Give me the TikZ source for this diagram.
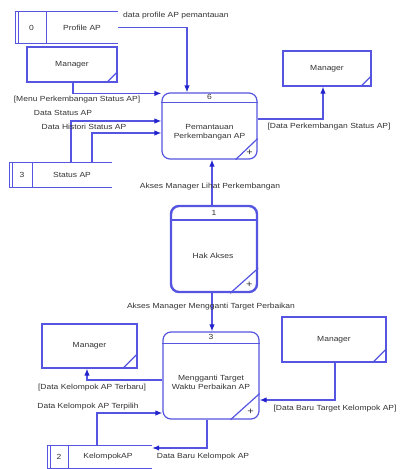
\documentclass[tikz,border=0pt]{standalone}
\usepackage{fontspec}
\setmainfont{Liberation Sans}[FakeStretch=1.15]
\usetikzlibrary{arrows.meta}
\definecolor{lc}{RGB}{85,85,225}
\definecolor{ac}{RGB}{35,35,205}
\definecolor{tc}{RGB}{50,50,50}
\tikzset{
  ln/.style={draw=lc, line width=1.2pt},
  flow/.style={ln, -{Latex[length=7pt,width=5.5pt,color=ac]}},
  ent/.style={draw=lc, line width=1.2pt, rectangle, inner sep=0pt, font=\fontsize{7.4}{8}\selectfont, text=tc},
  proc/.style={draw=lc, line width=1.2pt, rectangle, rounded corners=8pt, inner sep=0pt},
  sto/.style={rectangle, inner sep=0pt},
  lbl/.style={font=\fontsize{7.4}{8.6}\selectfont, text=tc, inner sep=0pt},
  plus/.style={font=\fontsize{9.5}{10}\selectfont, text=tc, inner sep=0pt}
}
\begin{document}
\begin{tikzpicture}[x=1pt,y=-1pt]
\useasboundingbox (0,0) rectangle (402,469);

% ---------- data store 0 ----------
\node[sto, minimum width=102pt, minimum height=31pt] (s0) at (67,27.5) {};
\draw[ln] (s0.north east) -- (s0.north west) -- (s0.south west) -- (s0.south east);
\draw[ln] ([xshift=2.5pt]s0.north west) -- ([xshift=2.5pt]s0.south west);
\draw[ln] ([xshift=31pt]s0.north west) -- ([xshift=31pt]s0.south west);
\node[lbl] (s0n) at (31.5,27.5) {0};
\node[lbl] (s0t) at (82,27.5) {Profile AP};

% ---------- data store 3 ----------
\node[sto, minimum width=102pt, minimum height=24pt] (s3) at (61,175) {};
\draw[ln] (s3.north east) -- (s3.north west) -- (s3.south west) -- (s3.south east);
\draw[ln] ([xshift=2.5pt]s3.north west) -- ([xshift=2.5pt]s3.south west);
\draw[ln] ([xshift=23pt]s3.north west) -- ([xshift=23pt]s3.south west);
\node[lbl] (s3n) at (22,175) {3};
\node[lbl] (s3t) at (72,175) {Status AP};

% ---------- data store 2 ----------
\node[sto, minimum width=104pt, minimum height=22pt] (s2) at (100,457) {};
\draw[ln] (s2.north east) -- (s2.north west) -- (s2.south west) -- (s2.south east);
\draw[ln] ([xshift=2.5pt]s2.north west) -- ([xshift=2.5pt]s2.south west);
\draw[ln] ([xshift=21pt]s2.north west) -- ([xshift=21pt]s2.south west);
\node[lbl] (s2n) at (59,457) {2};
\node[lbl] (s2t) at (108,457) {KelompokAP};

% ---------- external entities ----------
\node[ent, minimum width=90pt, minimum height=35pt] (mA) at (72,64.5) {Manager};
\draw[ln] ([xshift=-11pt]mA.south east) -- ([yshift=11pt]mA.south east);
\node[ent, minimum width=88pt, minimum height=35pt] (mB) at (327,68.5) {Manager};
\draw[ln] ([xshift=-11pt]mB.south east) -- ([yshift=11pt]mB.south east);
\node[ent, minimum width=95pt, minimum height=44pt] (mC) at (89.5,346) {Manager};
\draw[ln] ([xshift=-15pt]mC.south east) -- ([yshift=15pt]mC.south east);
\node[ent, minimum width=104pt, minimum height=45pt] (mD) at (334,339.5) {Manager};
\draw[ln] ([xshift=-14pt]mD.south east) -- ([yshift=14pt]mD.south east);

% ---------- process 6 ----------
\node[proc, minimum width=95pt, minimum height=66pt] (p6) at (209.5,126) {};
\draw[ln] ([yshift=-10pt]p6.north west) -- ([yshift=-10pt]p6.north east);
\node[lbl] (p6n) at ([yshift=-5pt]p6.north) {6};
\node[lbl, align=center] (p6t) at (209.5,132) {Pemantauan\\Perkembangan AP};
\draw[ln] ([xshift=-22pt]p6.south east) -- ([yshift=21pt]p6.south east);
\node[plus] (p6p) at ([xshift=-8pt,yshift=7pt]p6.south east) {+};

% ---------- process 1 ----------
\node[proc, line width=2.4pt, minimum width=86pt, minimum height=86pt] (p1) at (214,249) {};
\draw[ln, line width=1.6pt] ([yshift=-15pt]p1.north west) -- ([yshift=-15pt]p1.north east);
\node[lbl] (p1n) at ([yshift=-8pt]p1.north) {1};
\node[lbl] (p1t) at (213,256) {Hak Akses};
\draw[ln] ([xshift=-28pt]p1.south east) -- ([yshift=25pt]p1.south east);
\node[plus] (p1p) at ([xshift=-9pt,yshift=8pt]p1.south east) {+};

% ---------- process 3 ----------
\node[proc, minimum width=96pt, minimum height=87pt] (p3) at (211,375.5) {};
\draw[ln] ([yshift=-12pt]p3.north west) -- ([yshift=-12pt]p3.north east);
\node[lbl] (p3n) at ([yshift=-6pt]p3.north) {3};
\node[lbl, align=center] (p3t) at (211,382.5) {Mengganti Target\\Waktu Perbaikan AP};
\draw[ln] ([xshift=-29pt]p3.south east) -- ([yshift=26pt]p3.south east);
\node[plus] (p3p) at ([xshift=-9pt,yshift=8pt]p3.south east) {+};

% ---------- connectors ----------
\coordinate (c187) at (187,0);
\draw[flow] (s0.east) -| (c187 |- p6.north);
\node[lbl, anchor=west] (l1) at (123,16) {data profile AP pemantauan};

\draw[flow] ([xshift=1pt]mA.south) |- ([yshift=-1pt]p6.north west);
\node[lbl] (l2) at (77,100) {[Menu Perkembangan Status AP]};

\draw[flow] ([xshift=10pt]s3.north) |- ([yshift=5pt]p6.west);
\node[lbl] (l3) at (63,113) {Data Status AP};

\draw[flow] ([xshift=31pt]s3.north) |- ([yshift=-7pt]p6.west);
\node[lbl] (l4) at (84,127) {Data Histori Status AP};

\draw[flow] ([yshift=7pt]p6.east) -| ([xshift=-4pt]mB.south);
\node[lbl] (l5) at (329,127) {[Data Perkembangan Status AP]};

\draw[flow] ([xshift=-2pt]p1.north) -- ([xshift=-2pt]p1.north |- p6.south);
\node[lbl] (l6) at (210,187) {Akses Manager Lihat Perkembangan};

\draw[flow] ([xshift=-2pt]p1.south) -- ([xshift=-2pt]p1.south |- p3.north);
\node[lbl] (l7) at (211,307) {Akses Manager Mengganti Target Perbaikan};

\draw[flow] ([yshift=-4.5pt]p3.west) -| ([xshift=-2.5pt]mC.south);
\node[lbl] (l8) at (92,388) {[Data Kelompok AP Terbaru]};

\draw[flow] ([xshift=-3pt]s2.north) |- ([yshift=-37.5pt]p3.west);
\node[lbl] (l9) at (88,407) {Data Kelompok AP Terpilih};

\draw[flow] ([xshift=-4pt]p3.south) |- ([yshift=9pt]s2.east);
\node[lbl] (l10) at (203,457) {Data Baru Kelompok AP};

\draw[flow] ([xshift=1pt]mD.south) |- ([yshift=-24.5pt]p3.east);
\node[lbl] (l11) at (335,409) {[Data Baru Target Kelompok AP]};
\end{tikzpicture}
\end{document}
